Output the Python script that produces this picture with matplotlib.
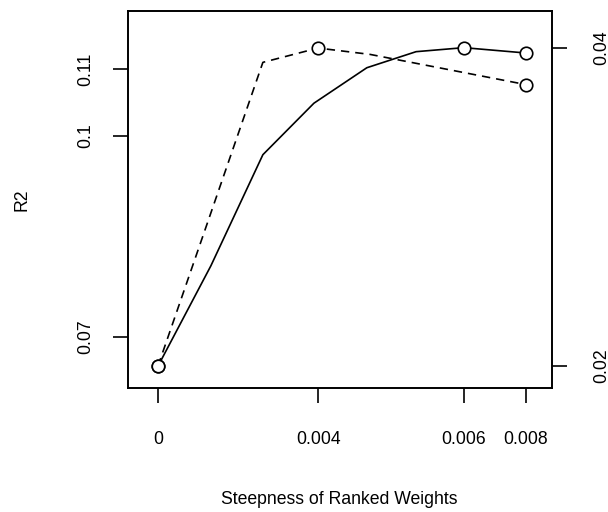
import matplotlib.pyplot as plt

plt.rcParams['font.family'] = ['Liberation Sans', 'DejaVu Sans']

# steepness values and R2 for the two fits
steep_a = [0.0, 0.00115, 0.00228, 0.00339, 0.00454, 0.00561, 0.00665, 0.008]
r2_a = [0.0656, 0.0806, 0.0972, 0.1049, 0.1102, 0.1126, 0.1132, 0.1124]
mark_a = [0, 6, 7]

steep_b = [0.0, 0.00228, 0.00348, 0.00461, 0.008]
r2_b = [0.0200, 0.0391, 0.0400, 0.0396, 0.0377]
mark_b = [0, 2, 4]

xticks = [steep_a[0], steep_b[2], steep_a[6], steep_a[7]]
xlabels = ['0', '0.004', '0.006', '0.008']
lticks = [0.07, 0.1, 0.11]
lticklabels = ['0.07', '0.1', '0.11']
rticks = [0.02, 0.04]
rticklabels = ['0.02', '0.04']

fs = 12.7
fig = plt.figure(figsize=(6.08, 5.12), dpi=100)
ax = fig.add_axes([128/608, 124/512, 424/608, 377/512])
ax2 = ax.twinx()

ax.plot(steep_a, r2_a, color='black', lw=1.2, marker='o', markevery=mark_a,
        ms=9, mfc='white', mec='black', mew=1.2)
ax2.plot(steep_b, r2_b, color='black', lw=1.2, dashes=(5, 3.6), marker='o',
         markevery=mark_b, ms=9, mfc='white', mec='black', mew=1.2)

ax.set_xlim(-0.000652, 0.008565)
ax.set_ylim(0.06233, 0.11868)
ax2.set_ylim(0.018616, 0.04233)

ax.set_xticks(xticks)
ax.set_xticklabels(xlabels)
ax.set_yticks(lticks)
ax.set_yticklabels(lticklabels, rotation=90, va='center')
ax2.set_yticks(rticks)
ax2.set_yticklabels(rticklabels, rotation=90, va='center')

ax.tick_params(axis='x', length=10.8, width=1.2, pad=20, labelsize=fs)
ax.tick_params(axis='y', length=10.8, width=1.2, pad=13.5, labelsize=fs)
ax2.tick_params(axis='y', length=10.8, width=1.2, pad=19, labelsize=fs)
for a in (ax, ax2):
    for s in a.spines.values():
        s.set_linewidth(1.2)

fig.text(339/608, 1 - 500/512, 'Steepness of Ranked Weights', ha='center',
         va='center', fontsize=fs)
fig.text(22/608, 1 - 200/512, 'R2', ha='center', va='center', rotation=90,
         fontsize=fs)

fig.savefig('out.png', dpi=100)
